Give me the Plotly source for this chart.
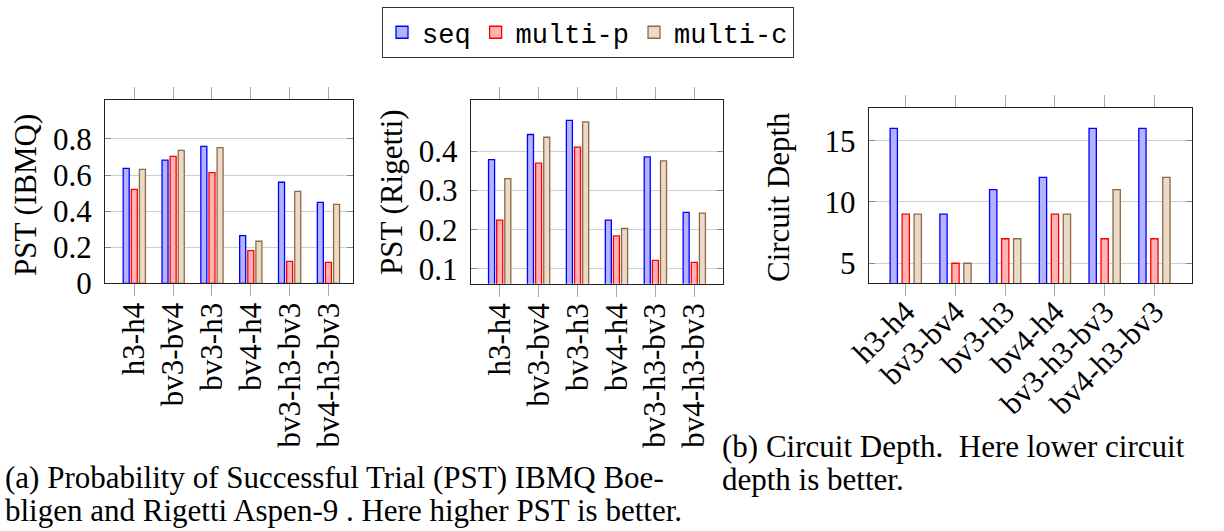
import plotly.graph_objects as go

categories = ["h3-h4", "bv3-bv4", "bv3-h3", "bv4-h4", "bv3-h3-bv3", "bv4-h3-bv3"]
series_names = ["seq", "multi-p", "multi-c"]

pst_ibmq_seq = [0.637, 0.683, 0.759, 0.264, 0.560, 0.449]
pst_ibmq_multi_p = [0.521, 0.704, 0.613, 0.181, 0.122, 0.116]
pst_ibmq_multi_c = [0.632, 0.737, 0.752, 0.233, 0.510, 0.438]

pst_rigetti_seq = [0.378, 0.442, 0.478, 0.224, 0.385, 0.244]
pst_rigetti_multi_p = [0.224, 0.369, 0.410, 0.184, 0.122, 0.117]
pst_rigetti_multi_c = [0.330, 0.435, 0.474, 0.203, 0.375, 0.242]

depth_seq = [16, 9, 11, 12, 16, 16]
depth_multi_p = [9, 5, 7, 9, 7, 7]
depth_multi_c = [9, 5, 7, 9, 11, 12]

fills = ["#b3b3ff", "#ffb3b3", "#ecdac7"]
lines = ["#0000ff", "#ff0000", "#8c6a48"]

W, H = 1224, 531
SERIF = "Liberation Serif"
FS = 31
CAP = 31

fig = go.Figure()

panels = [
    dict(data=[pst_ibmq_seq, pst_ibmq_multi_p, pst_ibmq_multi_c], w=0.155, s=0.209,
         xpx=(105, 353.3), ypx=(100, 283.3), xr=[-0.755, 5.64], yr=[0, 1.016],
         tickvals=[0, 0.2, 0.4, 0.6, 0.8], ticktext=["0", "0.2", "0.4", "0.6", "0.8"],
         angle=-90, xstand=-6),
    dict(data=[pst_rigetti_seq, pst_rigetti_multi_p, pst_rigetti_multi_c], w=0.155, s=0.209,
         xpx=(470.7, 722.7), ypx=(100, 283.7), xr=[-0.745, 5.73], yr=[0.0626, 0.5297],
         tickvals=[0.1, 0.2, 0.3, 0.4], ticktext=["0.1", "0.2", "0.3", "0.4"],
         angle=-90, xstand=-6),
    dict(data=[depth_seq, depth_multi_p, depth_multi_c], w=0.147, s=0.241,
         xpx=(868.7, 1191.7), ypx=(108.3, 283), xr=[-0.745, 5.75], yr=[3.39, 17.64],
         tickvals=[5, 10, 15], ticktext=["5", "10", "15"], angle=-45, xstand=-15),
]

for i, p in enumerate(panels):
    xa = "x" if i == 0 else f"x{i+1}"
    ya = "y" if i == 0 else f"y{i+1}"
    for k in range(3):
        fig.add_trace(go.Bar(
            x=categories, y=p["data"][k], name=series_names[k],
            xaxis=xa, yaxis=ya,
            width=p["w"], offset=(k - 1) * p["s"] - p["w"] / 2,
            marker=dict(color=fills[k], line=dict(color=lines[k], width=1.3)),
            showlegend=(i == 0), legendgroup=series_names[k],
        ))
    key_x = "xaxis" if i == 0 else f"xaxis{i+1}"
    key_y = "yaxis" if i == 0 else f"yaxis{i+1}"
    x0, x1 = p["xpx"]
    yt, yb = p["ypx"]
    fig.update_layout(**{
        key_x: dict(domain=[x0 / W, x1 / W], anchor=ya, type="category", automargin=False,
                    range=p["xr"], showline=True, linecolor="#222", linewidth=1.2,
                    mirror="ticks", ticks="outside", ticklen=12, tickcolor="#a8a8a8",
                    tickwidth=1.2, showgrid=False, tickangle=p["angle"],
                    ticklabelstandoff=p["xstand"],
                    tickfont=dict(family=SERIF, size=FS, color="black"), zeroline=False),
        key_y: dict(domain=[(H - yb) / H, (H - yt) / H], anchor=xa, automargin=False,
                    range=p["yr"], showline=True, linecolor="#222", linewidth=1.2,
                    mirror="ticks", ticks="inside", ticklen=6, tickcolor="#888",
                    tickvals=p["tickvals"], ticktext=p["ticktext"],
                    showgrid=True, gridcolor="#cfcfcf", gridwidth=1.2, zeroline=False,
                    ticklabelstandoff=6,
                    tickfont=dict(family=SERIF, size=FS, color="black")),
    })

annotations = [
    dict(text="PST (IBMQ)", x=25 / W, y=1 - 195 / H, textangle=-90),
    dict(text="PST (Rigetti)", x=391 / W, y=1 - 192 / H, textangle=-90),
    dict(text="Circuit Depth", x=778 / W, y=1 - 197 / H, textangle=-90),
]
anns = []
for a in annotations:
    anns.append(dict(xref="paper", yref="paper", showarrow=False, xanchor="center", yanchor="middle",
                     font=dict(family=SERIF, size=FS, color="black"), **a))

captions = [
    ("(a) Probability of Successful Trial (PST) IBMQ Boe-", 4, 477),
    ("bligen and Rigetti Aspen-9 . Here higher PST is better.", 4, 510),
    ("(b) Circuit Depth.&nbsp;&nbsp;Here lower circuit", 721, 446),
    ("depth is better.", 721, 479),
]
for t, x, y in captions:
    anns.append(dict(text=t, xref="paper", yref="paper", x=x / W, y=1 - y / H, showarrow=False,
                     xanchor="left", yanchor="middle", borderpad=0,
                     font=dict(family=SERIF, size=CAP, color="black")))

fig.update_layout(
    width=W, height=H, margin=dict(l=0, r=0, t=0, b=0, autoexpand=False),
    paper_bgcolor="white", plot_bgcolor="white",
    barmode="overlay",
    annotations=anns,
    legend=dict(orientation="h", x=588 / W, xanchor="center", y=1 - 7 / H, yanchor="top",
                font=dict(family="Liberation Mono", size=27, color="black"),
                bordercolor="#333", borderwidth=1.2, bgcolor="white",
                itemwidth=30, tracegroupgap=0),
)

fig.write_html("out.html")
